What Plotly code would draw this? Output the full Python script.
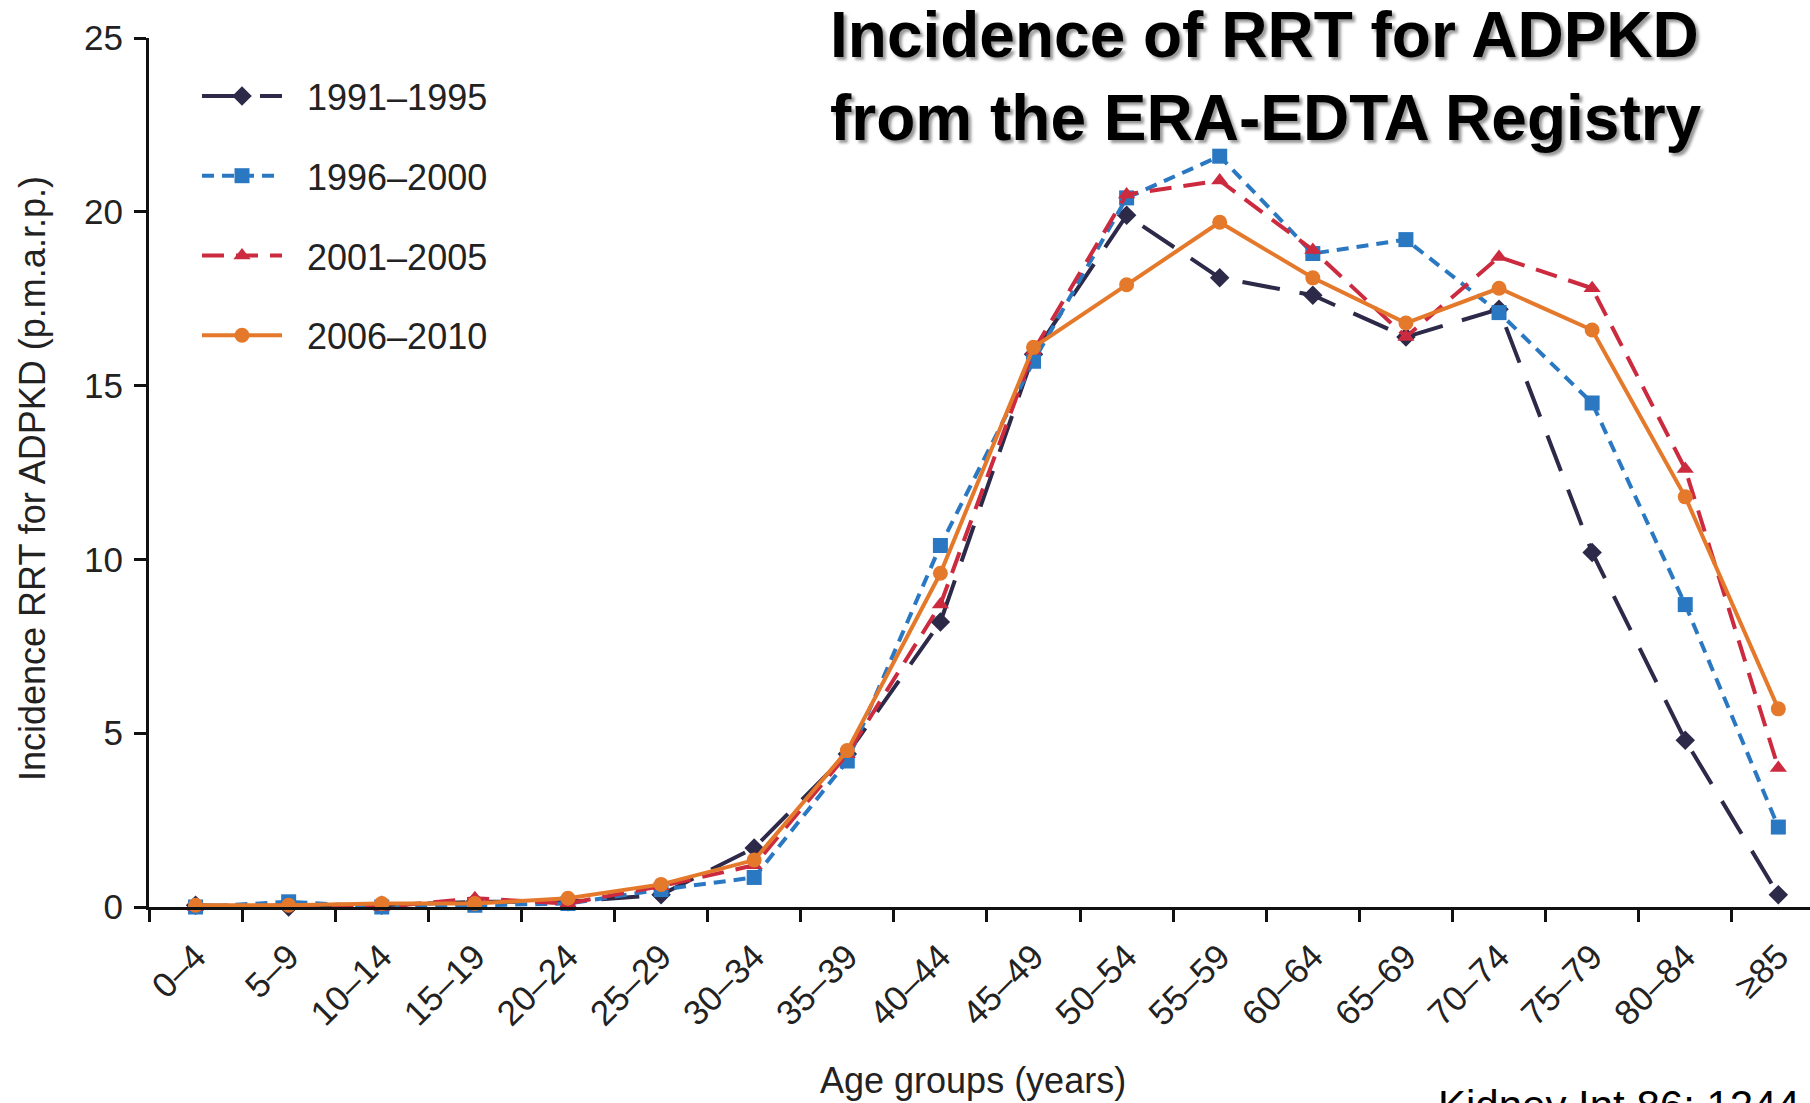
import plotly.graph_objects as go

# Age groups (x categories)
age_groups = ["0–4", "5–9", "10–14", "15–19", "20–24", "25–29", "30–34", "35–39",
              "40–44", "45–49", "50–54", "55–59", "60–64", "65–69", "70–74",
              "75–79", "80–84", "≥85"]

# Incidence of RRT for ADPKD (p.m.a.r.p.) per cohort period
inc_1991_1995 = [0.05, 0.0, 0.05, 0.15, 0.15, 0.35, 1.7, 4.4, 8.2, 15.9,
                 19.9, 18.1, 17.6, 16.4, 17.2, 10.2, 4.8, 0.35]
inc_1996_2000 = [0.0, 0.15, 0.0, 0.05, 0.1, 0.5, 0.85, 4.2, 10.4, 15.7,
                 20.4, 21.6, 18.8, 19.2, 17.1, 14.5, 8.7, 2.3]
inc_2001_2005 = [0.0, 0.05, 0.0, 0.25, 0.1, 0.6, 1.2, 4.4, 8.7, 16.0,
                 20.5, 20.9, 18.9, 16.4, 18.7, 17.8, 12.6, 4.0]
inc_2006_2010 = [0.05, 0.05, 0.1, 0.1, 0.25, 0.65, 1.35, 4.5, 9.6, 16.1,
                 17.9, 19.7, 18.1, 16.8, 17.8, 16.6, 11.8, 5.7]

series = [
    ("1991–1995", inc_1991_1995, "#2c2949", "diamond", "38px,20px"),
    ("1996–2000", inc_1996_2000, "#2a78c2", "square", "12px,8px"),
    ("2001–2005", inc_2001_2005, "#cc2b3f", "triangle-up", "22px,12px"),
    ("2006–2010", inc_2006_2010, "#e5792b", "circle", "solid"),
]

FONT = "Arial, 'Liberation Sans', Helvetica, sans-serif"
W, H = 1810, 1103
L, R, T, B = 149, 0, 38, 196
pw, ph = W - L - R, H - T - B
NBSP = "\u00a0"


def px_x(x):
    return (x - L) / pw


def px_y(y):
    return (H - B - y) / ph


fig = go.Figure()
for name, vals, color, symbol, dash in series:
    fig.add_trace(go.Scatter(
        x=age_groups, y=vals, name=NBSP * 2 + name, mode="lines+markers",
        legendgroup=name,
        line=dict(color=color, width=4, dash=dash),
        marker=dict(symbol=symbol, size=15, color=color),
        cliponaxis=False,
    ))

fig.update_layout(
    width=W, height=H,
    margin=dict(l=L, r=R, t=T, b=B),
    paper_bgcolor="white", plot_bgcolor="white",
    font=dict(family=FONT, size=34, color="#222222"),
    showlegend=True,
    legend=dict(
        x=px_x(197), y=px_y(66), xanchor="left", yanchor="top",
        bgcolor="rgba(0,0,0,0)", tracegroupgap=30, itemwidth=80,
        font=dict(size=36, color="#222222"),
    ),
    xaxis=dict(
        type="category", categoryorder="array", categoryarray=age_groups,
        range=[-0.5, 17.34], tickson="boundaries",
        showline=True, linecolor="#111111", linewidth=3,
        ticks="outside", ticklen=12, tickwidth=3, tickcolor="#111111",
        tickangle=-45, tickfont=dict(size=35), ticklabelstandoff=12,
        showgrid=False, zeroline=False,
    ),
    yaxis=dict(
        range=[0, 25], tickvals=[0, 5, 10, 15, 20, 25],
        showline=True, linecolor="#111111", linewidth=3,
        ticks="outside", ticklen=12, tickwidth=3, tickcolor="#111111",
        tickfont=dict(size=35), showgrid=False, zeroline=False,
        ticklabelstandoff=4,
    ),
    annotations=[
        dict(text="Incidence RRT for ADPKD (p.m.a.r.p.)", textangle=-90,
             xref="paper", yref="paper", x=px_x(32), y=px_y(479),
             xanchor="center", yanchor="middle", showarrow=False,
             font=dict(size=36)),
        dict(text="Age groups (years)",
             xref="paper", yref="paper", x=px_x(973), y=px_y(1080),
             xanchor="center", yanchor="middle", showarrow=False,
             font=dict(size=36)),
        dict(text="<b>Incidence of RRT for ADPKD<br>from the ERA-EDTA Registry</b>",
             xref="paper", yref="paper", x=px_x(828), y=px_y(76),
             xanchor="left", yanchor="middle", align="left", showarrow=False,
             font=dict(size=64, color="#000000", shadow="3px 3px 3px #999999")),
        dict(text="Kidney Int 86: 1244",
             xref="paper", yref="paper", x=px_x(1436), y=px_y(1080),
             xanchor="left", yanchor="top", showarrow=False,
             font=dict(size=42, color="#000000")),
    ],
)

fig.write_html("out.html")
